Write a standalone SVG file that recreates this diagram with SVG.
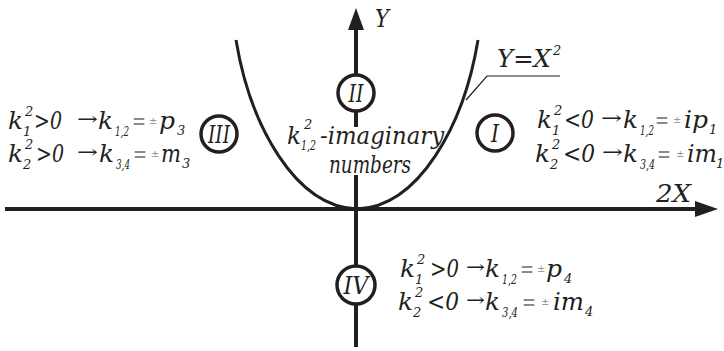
<svg xmlns="http://www.w3.org/2000/svg" width="724" height="351" viewBox="0 0 724 351">
<style>
text{font-style:italic;font-size:24px;fill:#231f20}
text.s{font-size:13px}
text.pm{font-size:10px;fill:#8a8a8a;font-style:normal}
text.g{fill:#8a8a8a;font-style:normal}
text.ar{font-style:normal;font-size:18px}
.ax{stroke:#231f20;stroke-width:4;fill:none}
.cv{stroke:#231f20;stroke-width:3;fill:none}
.ci{stroke:#231f20;stroke-width:3.5;fill:#fff}
.ld{stroke:#231f20;stroke-width:1.2;fill:none}
.c{text-anchor:middle}
</style>
<rect width="724" height="351" fill="#fff"/>
<g id="connectors">
<line class="ax" x1="5" y1="209" x2="698" y2="209"/>
<polygon points="695,201 718,209 695,217" fill="#231f20"/>
<line class="ax" x1="356" y1="28" x2="356" y2="75"/>
<line class="ax" x1="356" y1="111" x2="356" y2="127"/>
<line class="ax" x1="356" y1="175" x2="356" y2="266"/>
<line class="ax" x1="356" y1="304" x2="356" y2="347"/>
<polygon points="348,30 356,8 364,30" fill="#231f20"/>
<path class="cv" d="M236,40 C250,125 295,207 357,209 C419,207 464,125 478,40"/>
<polyline class="ld" points="466,100 487,76 560,76"/>
</g>
<g font-family="DejaVu Serif, serif">
<g id="axis-labels">
<text x="375" y="27" textLength="14" lengthAdjust="spacingAndGlyphs">Y</text>
<text x="656" y="202" textLength="35" lengthAdjust="spacingAndGlyphs">2X</text>
<text x="497" y="67" textLength="54" lengthAdjust="spacingAndGlyphs">Y=X</text>
<text class="s" x="553" y="55">2</text>
</g>
<g id="region-II">
<circle class="ci" cx="356" cy="93" r="18"/>
<text class="c" x="356" y="102" textLength="15" lengthAdjust="spacingAndGlyphs">II</text>
</g>
<g id="region-III">
<circle class="ci" cx="219" cy="134" r="18"/>
<text class="c" x="219" y="143" textLength="22" lengthAdjust="spacingAndGlyphs">III</text>
</g>
<g id="region-I">
<circle class="ci" cx="495" cy="133" r="18"/>
<text class="c" x="495" y="142" textLength="8" lengthAdjust="spacingAndGlyphs">I</text>
</g>
<g id="region-IV">
<circle class="ci" cx="356" cy="285" r="19"/>
<text class="c" x="356" y="294" textLength="25" lengthAdjust="spacingAndGlyphs">IV</text>
</g>
<g id="text-II">
<text x="287" y="144" textLength="14" lengthAdjust="spacingAndGlyphs">k</text>
<text class="s" x="304" y="129">2</text>
<text class="s" x="301" y="150" textLength="15" lengthAdjust="spacingAndGlyphs">1,2</text>
<text x="320" y="144" textLength="124" lengthAdjust="spacingAndGlyphs">-imaginary</text>
<text x="329" y="173" textLength="82" lengthAdjust="spacingAndGlyphs">numbers</text>
</g>
<g id="text-III">
<text x="8" y="129" textLength="15" lengthAdjust="spacingAndGlyphs">k</text>
<text class="s" x="25" y="116">2</text>
<text class="s" x="23" y="136">1</text>
<text x="34" y="129" textLength="28" lengthAdjust="spacingAndGlyphs">&gt;0</text>
<text class="ar" x="77" y="125" textLength="21" lengthAdjust="spacingAndGlyphs">→</text>
<text x="98" y="129" textLength="15" lengthAdjust="spacingAndGlyphs">k</text>
<text class="s" x="115" y="136" textLength="14" lengthAdjust="spacingAndGlyphs">1,2</text>
<text class="g" x="132" y="129" textLength="14" lengthAdjust="spacingAndGlyphs">=</text>
<text class="pm" x="149" y="124">±</text>
<text x="159" y="129" textLength="16" lengthAdjust="spacingAndGlyphs">p</text>
<text class="s" x="177" y="135">3</text>
<text x="8" y="162" textLength="15" lengthAdjust="spacingAndGlyphs">k</text>
<text class="s" x="25" y="149">2</text>
<text class="s" x="23" y="169">2</text>
<text x="36" y="162" textLength="28" lengthAdjust="spacingAndGlyphs">&gt;0</text>
<text class="ar" x="77" y="158" textLength="21" lengthAdjust="spacingAndGlyphs">→</text>
<text x="99" y="162" textLength="15" lengthAdjust="spacingAndGlyphs">k</text>
<text class="s" x="116" y="169" textLength="14" lengthAdjust="spacingAndGlyphs">3,4</text>
<text class="g" x="133" y="162" textLength="14" lengthAdjust="spacingAndGlyphs">=</text>
<text class="pm" x="151" y="157">±</text>
<text x="161" y="162" textLength="20" lengthAdjust="spacingAndGlyphs">m</text>
<text class="s" x="182" y="168">3</text>
</g>
<g id="text-I">
<text x="537" y="128" textLength="15" lengthAdjust="spacingAndGlyphs">k</text>
<text class="s" x="554" y="115">2</text>
<text class="s" x="552" y="135">1</text>
<text x="564" y="128" textLength="30" lengthAdjust="spacingAndGlyphs">&lt;0</text>
<text class="ar" x="601" y="124" textLength="21" lengthAdjust="spacingAndGlyphs">→</text>
<text x="623" y="128" textLength="15" lengthAdjust="spacingAndGlyphs">k</text>
<text class="s" x="640" y="135" textLength="14" lengthAdjust="spacingAndGlyphs">1,2</text>
<text class="g" x="655" y="128" textLength="14" lengthAdjust="spacingAndGlyphs">=</text>
<text class="pm" x="673" y="123">±</text>
<text x="684" y="128" textLength="24" lengthAdjust="spacingAndGlyphs">ip</text>
<text class="s" x="709" y="134">1</text>
<text x="535" y="162" textLength="15" lengthAdjust="spacingAndGlyphs">k</text>
<text class="s" x="552" y="149">2</text>
<text class="s" x="550" y="169">2</text>
<text x="563" y="162" textLength="32" lengthAdjust="spacingAndGlyphs">&lt;0</text>
<text class="ar" x="602" y="158" textLength="21" lengthAdjust="spacingAndGlyphs">→</text>
<text x="623" y="162" textLength="15" lengthAdjust="spacingAndGlyphs">k</text>
<text class="s" x="640" y="169" textLength="15" lengthAdjust="spacingAndGlyphs">3,4</text>
<text class="g" x="657" y="162" textLength="14" lengthAdjust="spacingAndGlyphs">=</text>
<text class="pm" x="676" y="157">±</text>
<text x="687" y="162" textLength="30" lengthAdjust="spacingAndGlyphs">im</text>
<text class="s" x="716" y="168">1</text>
</g>
<g id="text-IV">
<text x="400" y="277" textLength="15" lengthAdjust="spacingAndGlyphs">k</text>
<text class="s" x="417" y="264">2</text>
<text class="s" x="415" y="284">1</text>
<text x="430" y="277" textLength="29" lengthAdjust="spacingAndGlyphs">&gt;0</text>
<text class="ar" x="466" y="273" textLength="19" lengthAdjust="spacingAndGlyphs">→</text>
<text x="485" y="277" textLength="15" lengthAdjust="spacingAndGlyphs">k</text>
<text class="s" x="502" y="284" textLength="15" lengthAdjust="spacingAndGlyphs">1,2</text>
<text class="g" x="520" y="277" textLength="14" lengthAdjust="spacingAndGlyphs">=</text>
<text class="pm" x="537" y="272">±</text>
<text x="546" y="277" textLength="16" lengthAdjust="spacingAndGlyphs">p</text>
<text class="s" x="564" y="283">4</text>
<text x="398" y="310" textLength="15" lengthAdjust="spacingAndGlyphs">k</text>
<text class="s" x="415" y="297">2</text>
<text class="s" x="413" y="317">2</text>
<text x="427" y="310" textLength="32" lengthAdjust="spacingAndGlyphs">&lt;0</text>
<text class="ar" x="466" y="306" textLength="19" lengthAdjust="spacingAndGlyphs">→</text>
<text x="485" y="310" textLength="15" lengthAdjust="spacingAndGlyphs">k</text>
<text class="s" x="502" y="317" textLength="16" lengthAdjust="spacingAndGlyphs">3,4</text>
<text class="g" x="522" y="310" textLength="14" lengthAdjust="spacingAndGlyphs">=</text>
<text class="pm" x="541" y="305">±</text>
<text x="553" y="310" textLength="31" lengthAdjust="spacingAndGlyphs">im</text>
<text class="s" x="585" y="316">4</text>
</g>
</g>
</svg>
